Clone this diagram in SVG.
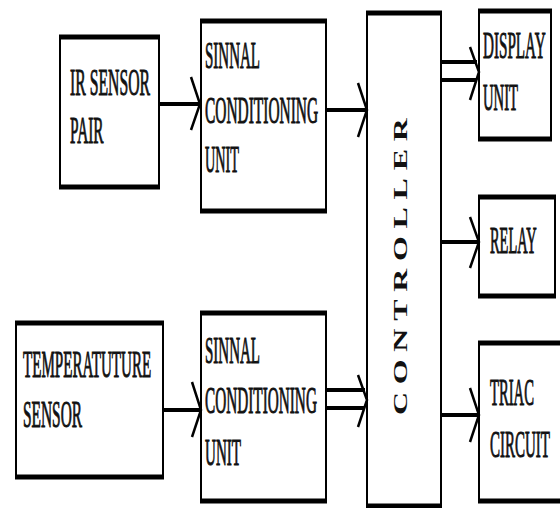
<svg xmlns="http://www.w3.org/2000/svg" width="560" height="508" viewBox="0 0 560 508">
<style>
.side{fill:#fff;stroke:#000;stroke-width:2}
.edge{stroke:#000;stroke-width:5}
.t{font-family:"Liberation Serif","DejaVu Serif",serif;font-size:38px;fill:#111;stroke:#111;stroke-width:1}
.v{font-family:"Liberation Serif","DejaVu Serif",serif;font-size:32px;font-weight:bold;fill:#111;letter-spacing:7.7px}
.ln{stroke:#000;stroke-width:4;fill:none}
.hd{stroke:#000;stroke-width:2.5;fill:none;stroke-linejoin:miter}
</style>
<rect width="560" height="508" fill="#fff"/>
<g id="ir">
<rect class="side" x="60" y="37" width="99" height="150"/>
<line class="edge" x1="59" y1="37" x2="160" y2="37"/><line class="edge" x1="59" y1="187" x2="160" y2="187"/>
<text class="t" transform="translate(70,95) scale(0.414,1)">IR SENSOR</text>
<text class="t" transform="translate(70,143) scale(0.404,1)">PAIR</text>
</g>
<g id="sc1">
<rect class="side" x="201" y="21" width="125" height="190"/>
<line class="edge" x1="200" y1="21" x2="327" y2="21"/><line class="edge" x1="200" y1="211" x2="327" y2="211"/>
<text class="t" transform="translate(205,68) scale(0.395,1)">SINNAL</text>
<text class="t" transform="translate(205,123) scale(0.406,1)">CONDITIONING</text>
<text class="t" transform="translate(205,172) scale(0.375,1)">UNIT</text>
</g>
<g id="temp">
<rect class="side" x="16" y="323" width="147" height="154"/>
<line class="edge" x1="15" y1="323" x2="164" y2="323"/><line class="edge" x1="15" y1="477" x2="164" y2="477"/>
<text class="t" transform="translate(23,377) scale(0.397,1)">TEMPERATUTURE</text>
<text class="t" transform="translate(23,427) scale(0.405,1)">SENSOR</text>
</g>
<g id="sc2">
<rect class="side" x="201" y="313" width="125" height="188"/>
<line class="edge" x1="200" y1="313" x2="327" y2="313"/><line class="edge" x1="200" y1="501" x2="327" y2="501"/>
<text class="t" transform="translate(205,363) scale(0.395,1)">SINNAL</text>
<text class="t" transform="translate(205,413) scale(0.402,1)">CONDITIONING</text>
<text class="t" transform="translate(205,465) scale(0.397,1)">UNIT</text>
</g>
<g id="controller">
<rect class="side" x="367" y="13" width="74" height="500"/>
<line class="edge" x1="366" y1="13" x2="442" y2="13"/><line class="edge" x1="366" y1="506" x2="442" y2="506"/>
<text class="v" transform="translate(407,415) rotate(-90) scale(1,0.57)">CONTROLLER</text>
</g>
<g id="display">
<rect class="side" x="479" y="11" width="72" height="128"/>
<line class="edge" x1="478" y1="11" x2="552" y2="11"/><line class="edge" x1="478" y1="139" x2="552" y2="139"/>
<text class="t" transform="translate(483,58) scale(0.399,1)">DISPLAY</text>
<text class="t" transform="translate(483,110) scale(0.386,1)">UNIT</text>
</g>
<g id="relay">
<rect class="side" x="479" y="197" width="76" height="99"/>
<line class="edge" x1="478" y1="197" x2="556" y2="197"/><line class="edge" x1="478" y1="296" x2="556" y2="296"/>
<text class="t" transform="translate(490,253) scale(0.379,1)">RELAY</text>
</g>
<g id="triac">
<rect class="side" x="479" y="343" width="90" height="158"/>
<line class="edge" x1="478" y1="343" x2="570" y2="343"/><line class="edge" x1="478" y1="501" x2="570" y2="501"/>
<text class="t" transform="translate(490,405) scale(0.386,1)">TRIAC</text>
<text class="t" transform="translate(490,457) scale(0.395,1)">CIRCUIT</text>
</g>
<g id="connectors">
<line class="ln" x1="159" y1="104" x2="199" y2="104"/>
<polyline class="hd" points="191,77 200,104 191,130"/>
<line class="ln" x1="326" y1="110" x2="366" y2="110"/>
<polyline class="hd" points="358,83 367,110 358,137"/>
<line class="ln" x1="441" y1="62" x2="477" y2="62"/>
<line class="ln" x1="441" y1="80" x2="477" y2="80"/>
<polyline class="hd" points="470,47 479,72 470,100"/>
<line class="ln" x1="441" y1="242" x2="478" y2="242"/>
<polyline class="hd" points="470,217 479,242 470,268"/>
<line class="ln" x1="441" y1="415" x2="478" y2="415"/>
<polyline class="hd" points="470,388 479,415 470,442"/>
<line class="ln" x1="163" y1="410" x2="200" y2="410"/>
<polyline class="hd" points="192,382 201,410 192,437"/>
<line class="ln" x1="326" y1="390" x2="365" y2="390"/>
<line class="ln" x1="326" y1="408" x2="365" y2="408"/>
<polyline class="hd" points="358,375 367,400 358,427"/>
</g>
</svg>
